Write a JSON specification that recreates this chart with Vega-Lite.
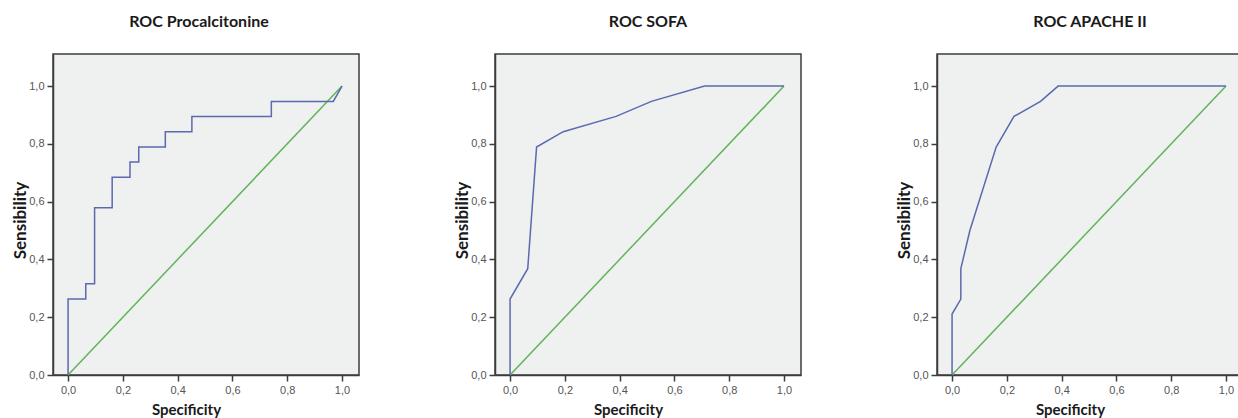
{
  "$schema": "https://vega.github.io/schema/vega-lite/v6.json",
  "padding": {"left": 10, "top": 12, "right": 0, "bottom": 0},
  "spacing": 92,
  "background": "white",
  "config": {
    "view": {"fill": "#eff0f0", "stroke": "#3c3c3c", "strokeWidth": 1.5},
    "axis": {
      "grid": false,
      "domainColor": "#3c3c3c",
      "domainWidth": 1.5,
      "tickColor": "#3c3c3c",
      "tickWidth": 1.5,
      "tickSize": 6,
      "labelFont": "Liberation Sans",
      "labelFontSize": 11,
      "labelColor": "#555555",
      "labelPadding": 3,
      "titleFont": "Lato",
      "titleFontWeight": "bold",
      "titleColor": "#1a1a1a",
      "labelExpr": "replace(format(datum.value, '.1f'), '.', ',')"
    },
    "axisX": {"titleFontSize": 15, "titleX": 133, "titleY": 39, "titleBaseline": "alphabetic", "labelFlush": false},
    "axisY": {"titleFontSize": 17, "titleX": -33, "titleY": 166, "titleBaseline": "middle", "titleAngle": 270, "labelFlush": false},
    "title": {"font": "Lato", "fontSize": 16, "fontWeight": "bold", "color": "#1a1a1a", "baseline": "alphabetic", "offset": 24.5}
  },
  "datasets": {
    "pct": [
      {"i": 0, "spec": 0, "sens": 0},
      {"i": 1, "spec": 0, "sens": 0.263},
      {"i": 2, "spec": 0.0645, "sens": 0.263},
      {"i": 3, "spec": 0.0645, "sens": 0.316},
      {"i": 4, "spec": 0.0968, "sens": 0.316},
      {"i": 5, "spec": 0.0968, "sens": 0.579},
      {"i": 6, "spec": 0.161, "sens": 0.579},
      {"i": 7, "spec": 0.161, "sens": 0.684},
      {"i": 8, "spec": 0.226, "sens": 0.684},
      {"i": 9, "spec": 0.226, "sens": 0.737},
      {"i": 10, "spec": 0.258, "sens": 0.737},
      {"i": 11, "spec": 0.258, "sens": 0.789},
      {"i": 12, "spec": 0.355, "sens": 0.789},
      {"i": 13, "spec": 0.355, "sens": 0.842},
      {"i": 14, "spec": 0.452, "sens": 0.842},
      {"i": 15, "spec": 0.452, "sens": 0.895},
      {"i": 16, "spec": 0.742, "sens": 0.895},
      {"i": 17, "spec": 0.742, "sens": 0.947},
      {"i": 18, "spec": 0.968, "sens": 0.947},
      {"i": 19, "spec": 1, "sens": 1}
    ],
    "sofa": [
      {"i": 0, "spec": 0, "sens": 0},
      {"i": 1, "spec": 0, "sens": 0.263},
      {"i": 2, "spec": 0.0645, "sens": 0.368},
      {"i": 3, "spec": 0.0968, "sens": 0.789},
      {"i": 4, "spec": 0.194, "sens": 0.842},
      {"i": 5, "spec": 0.387, "sens": 0.895},
      {"i": 6, "spec": 0.516, "sens": 0.947},
      {"i": 7, "spec": 0.71, "sens": 1},
      {"i": 8, "spec": 1, "sens": 1}
    ],
    "apache": [
      {"i": 0, "spec": 0, "sens": 0},
      {"i": 1, "spec": 0, "sens": 0.211},
      {"i": 2, "spec": 0.032, "sens": 0.263},
      {"i": 3, "spec": 0.032, "sens": 0.368},
      {"i": 4, "spec": 0.065, "sens": 0.5},
      {"i": 5, "spec": 0.161, "sens": 0.789},
      {"i": 6, "spec": 0.226, "sens": 0.895},
      {"i": 7, "spec": 0.323, "sens": 0.947},
      {"i": 8, "spec": 0.387, "sens": 1},
      {"i": 9, "spec": 1, "sens": 1}
    ],
    "diag": [
      {"i": 0, "spec": 0, "sens": 0},
      {"i": 1, "spec": 1, "sens": 1}
    ]
  },
  "hconcat": [
    {
      "width": 306, "height": 321,
      "title": {"text": "ROC Procalcitonine", "dx": -7},
      "layer": [
        {
          "data": {"name": "diag"},
          "mark": {"type": "line", "color": "#62b35a", "strokeWidth": 1.5},
          "encoding": {
            "x": {"field": "spec", "type": "quantitative", "title": "Specificity", "scale": {"domain": [-0.055, 1.062], "nice": false, "zero": false}, "axis": {"values": [0, 0.2, 0.4, 0.6, 0.8, 1.0]}},
            "y": {"field": "sens", "type": "quantitative", "title": "Sensibility", "scale": {"domain": [0, 1.111], "nice": false}, "axis": {"values": [0, 0.2, 0.4, 0.6, 0.8, 1.0]}},
            "order": {"field": "i"}
          }
        },
        {
          "data": {"name": "pct"},
          "mark": {"type": "line", "color": "#5b6aaf", "strokeWidth": 1.5},
          "encoding": {
            "x": {"field": "spec", "type": "quantitative"},
            "y": {"field": "sens", "type": "quantitative"},
            "order": {"field": "i"}
          }
        }
      ]
    },
    {
      "width": 306, "height": 321,
      "title": {"text": "ROC SOFA"},
      "layer": [
        {
          "data": {"name": "diag"},
          "mark": {"type": "line", "color": "#62b35a", "strokeWidth": 1.5},
          "encoding": {
            "x": {"field": "spec", "type": "quantitative", "title": "Specificity", "scale": {"domain": [-0.055, 1.062], "nice": false, "zero": false}, "axis": {"values": [0, 0.2, 0.4, 0.6, 0.8, 1.0]}},
            "y": {"field": "sens", "type": "quantitative", "title": "Sensibility", "scale": {"domain": [0, 1.111], "nice": false}, "axis": {"values": [0, 0.2, 0.4, 0.6, 0.8, 1.0]}},
            "order": {"field": "i"}
          }
        },
        {
          "data": {"name": "sofa"},
          "mark": {"type": "line", "color": "#5b6aaf", "strokeWidth": 1.5},
          "encoding": {
            "x": {"field": "spec", "type": "quantitative"},
            "y": {"field": "sens", "type": "quantitative"},
            "order": {"field": "i"}
          }
        }
      ]
    },
    {
      "width": 306, "height": 321,
      "title": {"text": "ROC APACHE II"},
      "layer": [
        {
          "data": {"name": "diag"},
          "mark": {"type": "line", "color": "#62b35a", "strokeWidth": 1.5},
          "encoding": {
            "x": {"field": "spec", "type": "quantitative", "title": "Specificity", "scale": {"domain": [-0.055, 1.062], "nice": false, "zero": false}, "axis": {"values": [0, 0.2, 0.4, 0.6, 0.8, 1.0]}},
            "y": {"field": "sens", "type": "quantitative", "title": "Sensibility", "scale": {"domain": [0, 1.111], "nice": false}, "axis": {"values": [0, 0.2, 0.4, 0.6, 0.8, 1.0]}},
            "order": {"field": "i"}
          }
        },
        {
          "data": {"name": "apache"},
          "mark": {"type": "line", "color": "#5b6aaf", "strokeWidth": 1.5},
          "encoding": {
            "x": {"field": "spec", "type": "quantitative"},
            "y": {"field": "sens", "type": "quantitative"},
            "order": {"field": "i"}
          }
        }
      ]
    }
  ]
}
